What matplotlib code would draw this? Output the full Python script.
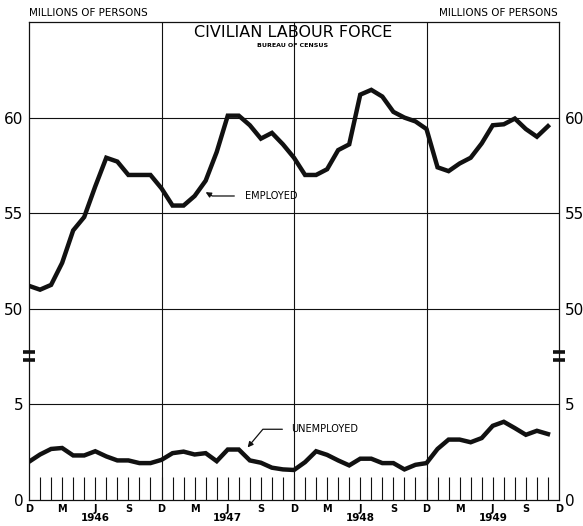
import numpy as np
import matplotlib
matplotlib.use("Agg")
import matplotlib.pyplot as plt
import matplotlib.transforms as mtransforms

# Monthly values, Dec 1945 .. Nov 1949 (millions of persons)
employed = [51.2, 51.0, 51.25, 52.4, 54.1, 54.8, 56.4, 57.9, 57.7, 57.0, 57.0, 57.0,
            56.3, 55.4, 55.4, 55.9, 56.7, 58.2, 60.1, 60.1, 59.6, 58.9, 59.2, 58.6,
            57.9, 57.0, 57.0, 57.3, 58.3, 58.6, 61.2, 61.45, 61.1, 60.3, 60.0, 59.8,
            59.4, 57.4, 57.2, 57.6, 57.9, 58.65, 59.6, 59.65, 59.95, 59.4, 59.0, 59.55]
unemployed = [2.0, 2.38, 2.67, 2.72, 2.33, 2.33, 2.55, 2.28, 2.07, 2.07, 1.93, 1.93,
              2.1, 2.45, 2.53, 2.38, 2.45, 2.03, 2.64, 2.64, 2.07, 1.95, 1.69, 1.6,
              1.57, 1.98, 2.55, 2.36, 2.07, 1.81, 2.16, 2.16, 1.93, 1.93, 1.6, 1.84,
              1.93, 2.67, 3.16, 3.16, 3.02, 3.24, 3.88, 4.09, 3.76, 3.41, 3.62, 3.45]
month_letters = ['D', 'M', 'J', 'S'] * 4 + ['D']
years = ['1946', '1947', '1948', '1949']
y_ticks = [0, 5, 50, 55, 60]

INK = '#111111'


# broken y scale: 0-7.5 kept, 7.5-47.5 cut out, 47.5+ shifted down
def fwd(v):
    v = np.asarray(v, dtype=float)
    return np.where(v >= 47.5, v - 40.0, np.minimum(v, 7.5))


def inv(t):
    t = np.asarray(t, dtype=float)
    return np.where(t > 7.5, t + 40.0, t)


fig = plt.figure(figsize=(5.83, 5.26), dpi=100)
W, H = 583, 526
ax = fig.add_axes([29 / W, (H - 500) / H, (559 - 29) / W, (500 - 22) / H])
ax.set_yscale('function', functions=(fwd, inv))
ax.set_xlim(0, 48)
ax.set_ylim(0, 65)

months = np.arange(len(employed))

# grid
for v in [5, 50, 55, 60]:
    ax.axhline(v, color=INK, lw=0.8, zorder=1)
for m in [12, 24, 36]:
    ax.axvline(m, color=INK, lw=0.8, zorder=1)
for s in ax.spines.values():
    s.set_color(INK)
    s.set_linewidth(0.9)

# month tick marks along the bottom
ax.vlines(np.arange(1, 48), 0, 1.2, color=INK, lw=0.8, zorder=1)

ax.plot(months, employed, color=INK, lw=3.2, solid_joinstyle='miter', zorder=3)
ax.plot(months, unemployed, color=INK, lw=3.2, solid_joinstyle='miter', zorder=3)

# axes labels
ax.set_yticks(y_ticks)
ax.set_yticklabels([str(v) for v in y_ticks])
ax.yaxis.set_minor_locator(matplotlib.ticker.NullLocator())
ax.tick_params(axis='y', which='both', length=0, pad=4, labelsize=11,
               left=True, right=True, labelleft=True, labelright=True)
ax.set_xticks(np.arange(0, 49, 3))
ax.set_xticklabels(month_letters, fontsize=7, fontweight='bold')
ax.tick_params(axis='x', length=0, pad=3)

trans = mtransforms.blended_transform_factory(ax.transData, ax.transAxes)
for i, yr in enumerate(years):
    ax.text(6 + 12 * i, -0.038, yr, transform=trans, ha='center', va='center',
            fontsize=7.5, fontweight='bold')

# break marks on both axes
for xa in [0, 1]:
    for yb in [0.293, 0.309]:
        ax.plot([xa - 0.011, xa + 0.011], [yb, yb], transform=ax.transAxes,
                color=INK, lw=2.6, solid_capstyle='butt', clip_on=False, zorder=5)

# titles
ax.text(0.498, 0.977, 'CIVILIAN LABOUR FORCE', transform=ax.transAxes,
        ha='center', va='center', fontsize=11.5)
ax.text(0.498, 0.950, 'BUREAU OF CENSUS', transform=ax.transAxes,
        ha='center', va='center', fontsize=4.5, fontweight='bold')
fig.text(29 / W, 1 - 13 / H, 'MILLIONS OF PERSONS', ha='left', va='center', fontsize=7.5)
fig.text(558 / W, 1 - 13 / H, 'MILLIONS OF PERSONS', ha='right', va='center', fontsize=7.5)

# annotations
ax.annotate('EMPLOYED', xy=(16.0, 56.1), xytext=(19.6, 55.9),
            fontsize=7, ha='left', va='center',
            arrowprops=dict(arrowstyle='-|>', color=INK, lw=0.9, shrinkA=6, shrinkB=0,
                            mutation_scale=8,
                            connectionstyle='angle,angleA=0,angleB=-30,rad=0'))
ax.annotate('UNEMPLOYED', xy=(19.8, 2.75), xytext=(23.7, 3.7),
            fontsize=7, ha='left', va='center',
            arrowprops=dict(arrowstyle='-|>', color=INK, lw=0.9, shrinkA=4, shrinkB=0,
                            mutation_scale=8,
                            connectionstyle='angle,angleA=0,angleB=50,rad=0'))

fig.savefig('out.png', dpi=100)
